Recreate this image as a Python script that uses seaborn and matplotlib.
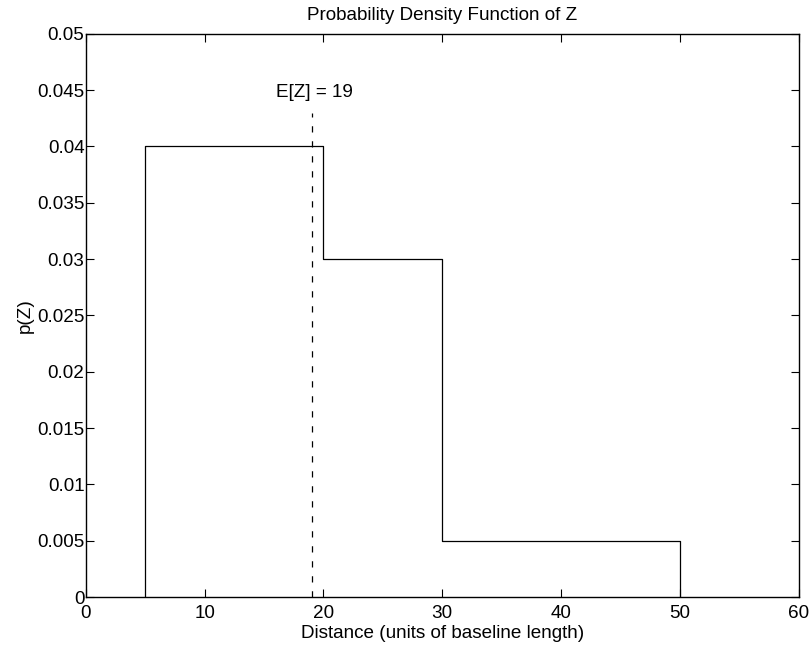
import numpy as np
import pandas as pd
import matplotlib
matplotlib.use("Agg")
import matplotlib.pyplot as plt
import seaborn as sns

# Data
bin_edges = [5, 20, 30, 50]
densities = [0.04, 0.03, 0.005]
mean_z = 19
x_ticks = [0, 10, 20, 30, 40, 50, 60]
y_ticks = [0, 0.005, 0.01, 0.015, 0.02, 0.025, 0.03, 0.035, 0.04, 0.045, 0.05]
y_tick_labels = ["0", "0.005", "0.01", "0.015", "0.02", "0.025", "0.03", "0.035", "0.04", "0.045", "0.05"]

sns.set_theme(style="ticks")
plt.rcParams['font.family'] = ['Liberation Sans', 'DejaVu Sans']
plt.rcParams['text.color'] = 'black'
plt.rcParams['axes.labelcolor'] = 'black'

FS = 13.6

edges = np.array(bin_edges, dtype=float)
widths = np.diff(edges)
centers = edges[:-1] + widths / 2
df = pd.DataFrame({"z": centers, "w": np.array(densities) * widths})

fig = plt.figure(figsize=(8.1, 6.49), dpi=100)
ax = fig.add_axes([0.106, 0.080, 0.880, 0.868])

sns.histplot(data=df, x="z", weights="w", bins=bin_edges, stat="density",
             element="step", fill=False, color="black", linewidth=0.9, ax=ax)
# outer edges of the step outline down to the baseline
ax.vlines([edges[0], edges[-1]], 0, [densities[0], densities[-1]],
          color="black", linewidth=0.9)

ax.plot([mean_z, mean_z], [0, 0.043], linestyle=(0, (5, 7)), color="black", linewidth=0.9)
ax.text(mean_z + 0.25, 0.0444, f"E[Z] = {mean_z}", ha="center", va="baseline",
        fontsize=FS, color="black")

ax.set_xlim(0, 60)
ax.set_ylim(0, 0.05)
ax.set_xticks(x_ticks)
ax.set_xticklabels([str(t) for t in x_ticks])
ax.set_yticks(y_ticks)
ax.set_yticklabels(y_tick_labels)
ax.tick_params(direction="in", top=True, right=True, length=6, width=0.8,
               labelsize=FS, colors="black")
ax.tick_params(axis="x", pad=6)
ax.tick_params(axis="y", pad=1)
for s in ax.spines.values():
    s.set_visible(True)
    s.set_color("black")
    s.set_linewidth(1.0)

ax.set_xlabel("Distance (units of baseline length)", fontsize=FS, labelpad=2)
ax.set_ylabel("p(Z)", fontsize=FS)
ax.yaxis.set_label_coords(-0.073, 0.5)
ax.set_title("Probability Density Function of Z", fontsize=FS, pad=10, color="black")

fig.savefig("out.png", dpi=100)
